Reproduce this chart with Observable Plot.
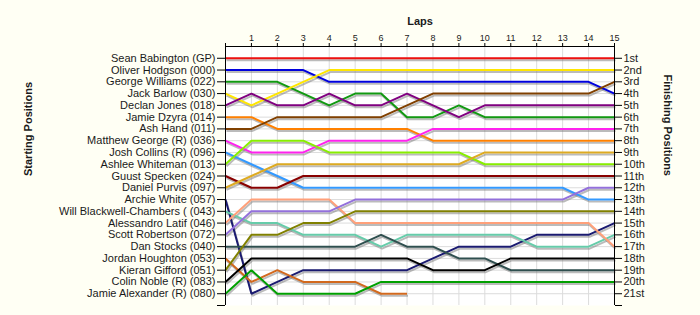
<!DOCTYPE html>
<html><head><meta charset="utf-8">
<script src="https://cdn.jsdelivr.net/npm/d3@7"></script>
<script src="https://cdn.jsdelivr.net/npm/@observablehq/plot@0.6"></script>
<style>body{margin:0;background:#fffff4;} svg{display:block;}</style>
</head><body><div id="chart"></div>
<script>
const drivers = [
  "Sean Babington (GP)", "Oliver Hodgson (000)", "George Williams (022)", "Jack Barlow (030)",
  "Declan Jones (018)", "Jamie Dzyra (014)", "Ash Hand (011)", "Matthew George (R) (036)",
  "Josh Collins (R) (096)", "Ashlee Whiteman (013)", "Guust Specken (024)", "Daniel Purvis (097)",
  "Archie White (057)", "Will Blackwell-Chambers ( (043)", "Alessandro Latif (046)", "Scott Robertson (072)",
  "Dan Stocks (040)", "Jordan Houghton (053)", "Kieran Gifford (051)", "Colin Noble (R) (083)",
  "Jamie Alexander (R) (080)"
];
const colors = [
  "#ee1111", "#0000dd", "#119911", "#ffe600",
  "#800080", "#ff8000", "#804000", "#ff22ee",
  "#3399ff", "#88ee00", "#880000", "#ddaa22",
  "#1a1a70", "#66ccaa", "#ffa07a", "#9370db",
  "#2f4f4f", "#d2691e", "#808000", "#000000",
  "#00a000"
];
const finishLabels = ["1st","2nd","3rd","4th","5th","6th","7th","8th","9th","10th","11th","12th","13th","14th","15th","16th","17th","18th","19th","20th","21st"];
const laps = [0,1,2,3,4,5,6,7,8,9,10,11,12,13,14,15];
const lapLabels = ["","1","2","3","4","5","6","7","8","9","10","11","12","13","14","15"];
const positions = [
  [1,1,1,1,1,1,1,1,1,1,1,1,1,1,1,1],
  [2,2,2,2,3,3,3,3,3,3,3,3,3,3,3,4],
  [3,3,3,4,5,4,4,6,6,5,6,6,6,6,6,6],
  [4,5,4,3,2,2,2,2,2,2,2,2,2,2,2,2],
  [5,4,5,5,4,5,5,4,5,6,5,5,5,5,5,5],
  [6,6,7,7,7,7,7,7,8,8,8,8,8,8,8,8],
  [7,7,6,6,6,6,6,5,4,4,4,4,4,4,4,3],
  [8,9,9,9,8,8,8,8,7,7,7,7,7,7,7,7],
  [9,10,11,12,12,12,12,12,12,12,12,12,12,12,13,13],
  [10,8,8,8,9,9,9,9,9,9,10,10,10,10,10,10],
  [11,12,12,11,11,11,11,11,11,11,11,11,11,11,11,11],
  [12,11,10,10,10,10,10,10,10,10,9,9,9,9,9,9],
  [13,21,20,19,19,19,19,19,18,17,17,17,16,16,16,15],
  [14,15,15,16,16,16,17,16,16,16,16,16,17,17,17,16],
  [15,13,13,13,13,15,15,15,15,15,15,15,15,15,15,17],
  [16,14,14,14,14,13,13,13,13,13,13,13,13,13,12,12],
  [17,17,17,17,17,17,16,17,17,18,18,19,19,19,19,19],
  [18,20,19,20,20,20,21,21,null,null,null,null,null,null,null,null],
  [19,16,16,15,15,14,14,14,14,14,14,14,14,14,14,14],
  [20,18,18,18,18,18,18,18,19,19,19,18,18,18,18,18],
  [21,19,21,21,21,21,20,20,20,20,20,20,20,20,20,20]
];

const rows = [];
positions.forEach((p, i) => p.forEach((v, k) => {
  if (v != null) rows.push({driver: drivers[i], lap: laps[k], pos: v, color: colors[i]});
}));
const posTicks = d3.range(1, 23);

const chart = Plot.plot({
  width: 700, height: 315,
  marginLeft: 225, marginRight: 86, marginTop: 46, marginBottom: 10,
  style: {fontFamily: "'Liberation Sans', Arial, sans-serif", fontSize: "11px", color: "#1a1a1a", background: "#fffff4"},
  x: {domain: [0, 15], axis: null},
  y: {domain: [0, 22], reverse: true, axis: null},
  color: {type: "identity"},
  marks: [
    Plot.frame({fill: "white", stroke: "none"}),
    Plot.gridX(laps, {stroke: "#dcdcdc", strokeOpacity: 1}),
    Plot.gridY(d3.range(1, 22), {stroke: "#dcdcdc", strokeOpacity: 1}),
    Plot.line(rows, {x: "lap", y: "pos", z: "driver", stroke: "#777", strokeOpacity: 0.5, strokeWidth: 2, dx: 1, dy: 2, strokeLinejoin: "miter", strokeLinecap: "butt"}),
    Plot.line(rows, {x: "lap", y: "pos", z: "driver", stroke: "color", strokeWidth: 2, strokeLinejoin: "miter", strokeLinecap: "butt"}),
    Plot.ruleY([0], {stroke: "black"}),
    Plot.ruleX([0, 15], {stroke: "black"}),
    Plot.axisX(laps, {anchor: "top", tickSize: 4, tickPadding: 2, fontSize: 9, label: null, tickFormat: d => lapLabels[laps.indexOf(d)], stroke: "black"}),
    Plot.axisY(posTicks, {anchor: "left", tickSize: 8, tickPadding: 2, fontSize: 11, label: null, tickFormat: d => d <= 21 ? drivers[d - 1] : "", stroke: "black"}),
    Plot.axisY(posTicks, {anchor: "right", tickSize: 7, tickPadding: 2, fontSize: 11, label: null, tickFormat: d => d <= 21 ? finishLabels[d - 1] : "", stroke: "black"}),
    Plot.text(["Laps"], {frameAnchor: "top", dy: -29, fontWeight: "bold", fontSize: 11}),
    Plot.text(["Starting Positions"], {frameAnchor: "left", dx: -197, rotate: -90, fontWeight: "bold", fontSize: 11}),
    Plot.text(["Finishing Positions"], {frameAnchor: "right", dx: 53, rotate: 90, fontWeight: "bold", fontSize: 11})
  ]
});
document.getElementById("chart").appendChild(chart);
</script>
</body></html>
